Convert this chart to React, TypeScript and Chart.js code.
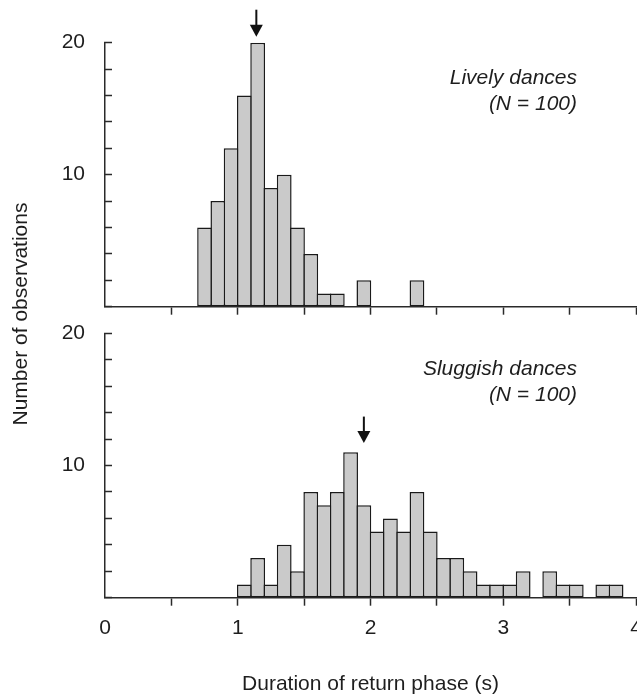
import { useEffect, useRef } from 'react';
import { Chart, registerables } from 'chart.js';

Chart.register(...registerables);

// ---- data ----
const BIN_WIDTH = 0.1;
const livelyBinStarts = [0.7, 0.8, 0.9, 1.0, 1.1, 1.2, 1.3, 1.4, 1.5, 1.6, 1.7, 1.9, 2.3];
const livelyCounts = [6, 8, 12, 16, 20, 9, 10, 6, 4, 1, 1, 2, 2];
const sluggishBinStarts = [
  1.0, 1.1, 1.2, 1.3, 1.4, 1.5, 1.6, 1.7, 1.8, 1.9, 2.0, 2.1, 2.2, 2.3, 2.4, 2.5, 2.6, 2.7, 2.8, 2.9, 3.0, 3.1,
  3.3, 3.4, 3.5, 3.7, 3.8,
];
const sluggishCounts = [
  1, 3, 1, 4, 2, 8, 7, 8, 11, 7, 5, 6, 5, 8, 5, 3, 3, 2, 1, 1, 1, 2,
  2, 1, 1, 1, 1,
];
const xTickLabels = ['0', '1', '2', '3', '4'];
const yTickLabels = ['10', '20'];
const livelyArrow = { x: 1.14, from: 22.5, to: 20.45 };
const sluggishArrow = { x: 1.95, from: 13.7, to: 11.7 };
const livelyLabel = ['Lively dances', '(N = 100)'];
const sluggishLabel = ['Sluggish dances', '(N = 100)'];
const xTitle = 'Duration of return phase (s)';
const yTitle = 'Number of observations';

const FONT_FAMILY = "'Liberation Sans', Arial, Helvetica, sans-serif";
const TEXT = '#1e1e1e';
const AXIS = '#2a2a2a';
const BAR_BORDER = 1.5;
const CANVAS_W = 660;
const CANVAS_H = 699;

type Panel = {
  bins: number[];
  counts: number[];
  arrow: { x: number; from: number; to: number };
  label: string[];
  top: number;
  bottom: number;
  showX: boolean;
  drawYTitle: boolean;
};

function decorPlugin(panel: Panel) {
  return {
    id: 'panelDecor',
    afterDatasetsDraw(chart: any) {
      const { ctx, chartArea, scales } = chart;
      const xs = scales.x;
      const ys = scales.y;
      ctx.save();
      // arrow marking the median
      const ax = xs.getPixelForValue(panel.arrow.x);
      const y1 = ys.getPixelForValue(panel.arrow.from);
      const y2 = ys.getPixelForValue(panel.arrow.to);
      ctx.strokeStyle = '#111';
      ctx.fillStyle = '#111';
      ctx.lineWidth = 2;
      ctx.beginPath();
      ctx.moveTo(ax, y1);
      ctx.lineTo(ax, y2 - 10);
      ctx.stroke();
      ctx.beginPath();
      ctx.moveTo(ax - 6.5, y2 - 12);
      ctx.lineTo(ax + 6.5, y2 - 12);
      ctx.lineTo(ax, y2);
      ctx.closePath();
      ctx.fill();
      // panel annotation
      ctx.fillStyle = TEXT;
      ctx.font = `italic 21px ${FONT_FAMILY}`;
      ctx.textAlign = 'right';
      ctx.textBaseline = 'alphabetic';
      panel.label.forEach((t, i) => {
        ctx.fillText(t, chartArea.right - 59, chartArea.top + 41.5 + i * 25.7);
      });
      // shared y-axis title
      if (panel.drawYTitle) {
        ctx.font = `21px ${FONT_FAMILY}`;
        ctx.textAlign = 'center';
        ctx.textBaseline = 'middle';
        ctx.translate(21, 314);
        ctx.rotate(-Math.PI / 2);
        ctx.fillText(yTitle, 0, 0);
      }
      ctx.restore();
    },
  };
}

function makeConfig(panel: Panel): any {
  const data = panel.bins
    .map((b, i) => ({ x: b + BIN_WIDTH / 2, y: panel.counts[i] }))
    .filter((d) => d.y > 0);
  const xHeight = panel.showX ? CANVAS_H - panel.bottom : 10;
  const font = { family: FONT_FAMILY, size: 21 };
  const binPx = (636 - 105) / 4 * BIN_WIDTH;
  return {
    type: 'bar',
    data: {
      datasets: [
        {
          data,
          backgroundColor: '#cacaca',
          borderColor: '#1a1a1a',
          borderWidth: BAR_BORDER,
          borderSkipped: false,
          barPercentage: 1 + BAR_BORDER / binPx,
          categoryPercentage: 1,
        },
      ],
    },
    plugins: [decorPlugin(panel)],
    options: {
      animation: false,
      responsive: false,
      events: [],
      layout: {
        padding: {
          left: 0,
          right: CANVAS_W - 636,
          top: panel.top,
          bottom: CANVAS_H - panel.bottom - xHeight,
        },
      },
      plugins: {
        legend: { display: false },
        tooltip: { enabled: false },
      },
      scales: {
        x: {
          type: 'linear',
          min: 0,
          max: 4,
          offset: false,
          afterFit: (s: any) => {
            s.height = xHeight;
          },
          border: { color: AXIS, width: 1.5 },
          grid: {
            offset: false,
            drawOnChartArea: false,
            drawTicks: true,
            tickLength: 8,
            tickWidth: 1.5,
            tickColor: (c: any) => (c.tick && c.tick.value === 0 ? 'rgba(0,0,0,0)' : AXIS),
          },
          ticks: {
            stepSize: 0.5,
            autoSkip: false,
            maxRotation: 0,
            padding: 10,
            font,
            color: TEXT,
            callback: (v: number) => {
              const s = String(v);
              return panel.showX && xTickLabels.includes(s) ? s : '';
            },
          },
          title: panel.showX
            ? {
                display: true,
                text: xTitle,
                color: TEXT,
                font,
                padding: { top: 0, bottom: 2.4 },
              }
            : { display: false },
        },
        y: {
          type: 'linear',
          min: 0,
          max: 20,
          afterFit: (s: any) => {
            s.width = 105;
          },
          border: { color: AXIS, width: 1.5 },
          grid: {
            drawOnChartArea: false,
            drawTicks: true,
            tickLength: -7,
            tickWidth: 1.5,
            tickColor: AXIS,
          },
          ticks: {
            stepSize: 2,
            autoSkip: false,
            padding: 27,
            font,
            color: TEXT,
            callback: (v: number) => {
              const s = String(v);
              return yTickLabels.includes(s) ? s : '';
            },
          },
        },
      },
    },
  };
}

export default function App() {
  const topRef = useRef<HTMLCanvasElement>(null);
  const botRef = useRef<HTMLCanvasElement>(null);

  useEffect(() => {
    const top = new Chart(
      topRef.current as HTMLCanvasElement,
      makeConfig({
        bins: livelyBinStarts,
        counts: livelyCounts,
        arrow: livelyArrow,
        label: livelyLabel,
        top: 42.7,
        bottom: 306.7,
        showX: false,
        drawYTitle: false,
      })
    );
    const bottom = new Chart(
      botRef.current as HTMLCanvasElement,
      makeConfig({
        bins: sluggishBinStarts,
        counts: sluggishCounts,
        arrow: sluggishArrow,
        label: sluggishLabel,
        top: 333.3,
        bottom: 597.7,
        showX: true,
        drawYTitle: true,
      })
    );
    return () => {
      top.destroy();
      bottom.destroy();
    };
  }, []);

  const canvasStyle: React.CSSProperties = {
    position: 'absolute',
    left: 0,
    top: 0,
    width: CANVAS_W,
    height: CANVAS_H,
  };

  return (
    <div
      style={{
        position: 'absolute',
        left: 0,
        top: 0,
        width: 637,
        height: 699,
        overflow: 'hidden',
        background: '#fff',
      }}
    >
      <canvas ref={topRef} width={CANVAS_W} height={CANVAS_H} style={canvasStyle} />
      <canvas ref={botRef} width={CANVAS_W} height={CANVAS_H} style={canvasStyle} />
    </div>
  );
}
